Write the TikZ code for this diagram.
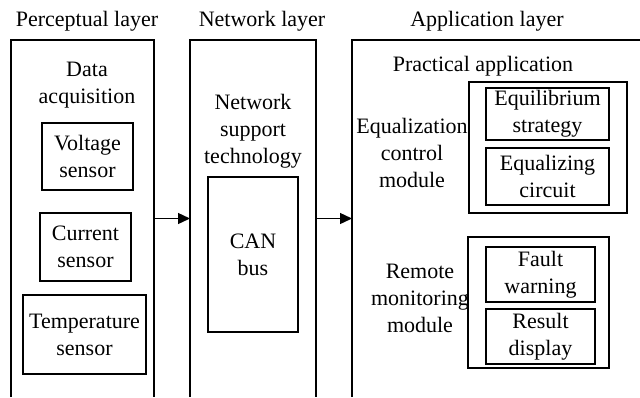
\documentclass[tikz,border=0pt]{standalone}
\usepackage{fontspec}
\setmainfont{Liberation Serif}
\usetikzlibrary{arrows.meta}
\begin{document}
\begin{tikzpicture}[x=1pt,y=-1pt,
  every node/.style={inner sep=0pt,outer sep=0pt,font=\fontsize{22}{27}\selectfont,align=center},
  box/.style={draw,line width=1.2pt,rectangle},
  layer/.style={rectangle},
  frame/.style={line width=1.5pt},
  conn/.style={line width=1.4pt,-{Triangle[length=12pt,width=11pt]}}]
\useasboundingbox (0,0) rectangle (640,397);
% titles
\node (tperc) at (87,21) {Perceptual layer};
\node (tnet) at (262,21) {Network layer};
\node (tapp) at (487,21) {Application layer};
% layer frames (open at bottom)
\node[layer,minimum width=143pt,minimum height=357pt] (perc) at (82.5,218.5) {};
\node[layer,minimum width=126pt,minimum height=357pt] (net) at (253,218.5) {};
\node[layer,minimum width=288pt,minimum height=357pt] (app) at (496,218.5) {};
\draw[frame] (perc.south west) -- (perc.north west) -- (perc.north east) -- (perc.south east);
\draw[frame] (net.south west) -- (net.north west) -- (net.north east) -- (net.south east);
\draw[frame] (app.south west) -- (app.north west) -- (app.north east);
% perceptual layer
\node (daq) at (87,85) {Data\\acquisition};
\node[box,minimum width=91pt,minimum height=67pt] (volt) at (87.5,156.5) {Voltage\\sensor};
\node[box,minimum width=91pt,minimum height=68pt] (curr) at (85.5,247) {Current\\sensor};
\node[box,minimum width=123pt,minimum height=79pt] (temp) at (84.5,334.5) {Temperature\\sensor};
% network layer
\node (nst) at (253,131) {Network\\support\\technology};
\node[box,minimum width=90pt,minimum height=155pt] (can) at (253,254.5) {CAN\\bus};
% application layer
\node (prac) at (483,66) {Practical application};
\node (eqm) at (412,153) {Equalization\\control\\module};
\node[box,minimum width=158pt,minimum height=131pt] (eqbox) at (548,147.5) {};
\node[box,minimum width=123pt,minimum height=52pt] (eqs) at (547.5,114) {Equilibrium\\strategy};
\node[box,minimum width=123pt,minimum height=57pt] (eqc) at (547.5,176.5) {Equalizing\\circuit};
\node (rmm) at (420,298) {Remote\\monitoring\\module};
\node[box,minimum width=141pt,minimum height=131pt] (rmbox) at (538.5,302.5) {};
\node[box,minimum width=109pt,minimum height=55pt] (fw) at (540.5,274.5) {Fault\\warning};
\node[box,minimum width=109pt,minimum height=55pt] (rd) at (540.5,336.5) {Result\\display};
% connectors
\draw[conn] (perc.east) -- (net.west);
\draw[conn] (net.east) -- (app.west);
\end{tikzpicture}
\end{document}
